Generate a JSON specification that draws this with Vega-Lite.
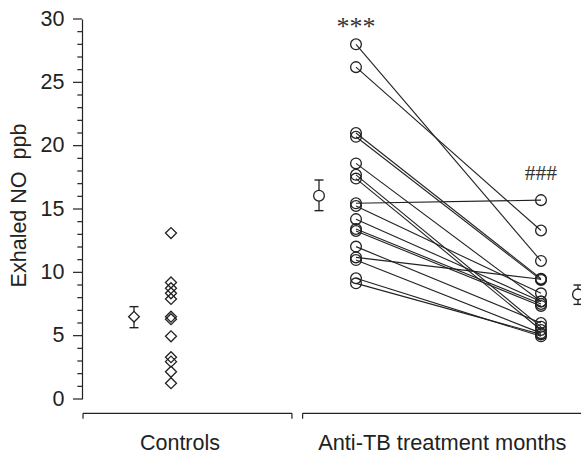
{
  "$schema": "https://vega.github.io/schema/vega-lite/v6.json",
  "width": 508,
  "height": 380,
  "autosize": "none",
  "padding": {"left": 73, "top": 19, "right": 0, "bottom": 56},
  "background": "white",
  "config": {
    "view": {"stroke": null},
    "font": "Liberation Sans",
    "axis": {"labelFont": "Liberation Sans", "titleFont": "Liberation Sans"}
  },
  "datasets": {
    "one": [{}],
    "majorTicks": [{"t": 0}, {"t": 5}, {"t": 10}, {"t": 15}, {"t": 20}, {"t": 25}, {"t": 30}],
    "minorTicks": [{"t": 1}, {"t": 2}, {"t": 3}, {"t": 4}, {"t": 6}, {"t": 7}, {"t": 8}, {"t": 9}, {"t": 11}, {"t": 12}, {"t": 13}, {"t": 14}, {"t": 16}, {"t": 17}, {"t": 18}, {"t": 19}, {"t": 21}, {"t": 22}, {"t": 23}, {"t": 24}, {"t": 26}, {"t": 27}, {"t": 28}, {"t": 29}],
    "controls": [
      {"slot": "Controls", "v": 13.1},
      {"slot": "Controls", "v": 9.2},
      {"slot": "Controls", "v": 8.75},
      {"slot": "Controls", "v": 8.35},
      {"slot": "Controls", "v": 7.9},
      {"slot": "Controls", "v": 6.5},
      {"slot": "Controls", "v": 6.3},
      {"slot": "Controls", "v": 4.95},
      {"slot": "Controls", "v": 3.3},
      {"slot": "Controls", "v": 2.95},
      {"slot": "Controls", "v": 2.15},
      {"slot": "Controls", "v": 1.25}
    ],
    "means": [
      {"slot": "ctrl_mean", "group": "Controls", "mean": 6.5, "lo": 5.63, "hi": 7.29},
      {"slot": "pre_mean", "group": "Treatment", "mean": 16.05, "lo": 14.87, "hi": 17.29},
      {"slot": "post_mean", "group": "Treatment", "mean": 8.26, "lo": 7.47, "hi": 9.0}
    ],
    "subjects": [
      {"id": 1, "slot": "Pre", "v": 28.0}, {"id": 1, "slot": "Post", "v": 10.9},
      {"id": 2, "slot": "Pre", "v": 26.2}, {"id": 2, "slot": "Post", "v": 13.3},
      {"id": 3, "slot": "Pre", "v": 21.0}, {"id": 3, "slot": "Post", "v": 9.5},
      {"id": 4, "slot": "Pre", "v": 20.7}, {"id": 4, "slot": "Post", "v": 9.4},
      {"id": 5, "slot": "Pre", "v": 18.6}, {"id": 5, "slot": "Post", "v": 7.7},
      {"id": 6, "slot": "Pre", "v": 17.7}, {"id": 6, "slot": "Post", "v": 5.7},
      {"id": 7, "slot": "Pre", "v": 17.4}, {"id": 7, "slot": "Post", "v": 5.45},
      {"id": 8, "slot": "Pre", "v": 15.45}, {"id": 8, "slot": "Post", "v": 15.7},
      {"id": 9, "slot": "Pre", "v": 15.24}, {"id": 9, "slot": "Post", "v": 8.34},
      {"id": 10, "slot": "Pre", "v": 14.2}, {"id": 10, "slot": "Post", "v": 7.7},
      {"id": 11, "slot": "Pre", "v": 13.42}, {"id": 11, "slot": "Post", "v": 7.5},
      {"id": 12, "slot": "Pre", "v": 13.26}, {"id": 12, "slot": "Post", "v": 7.35},
      {"id": 13, "slot": "Pre", "v": 12.03}, {"id": 13, "slot": "Post", "v": 6.0},
      {"id": 14, "slot": "Pre", "v": 11.18}, {"id": 14, "slot": "Post", "v": 9.45},
      {"id": 15, "slot": "Pre", "v": 10.97}, {"id": 15, "slot": "Post", "v": 5.2},
      {"id": 16, "slot": "Pre", "v": 9.53}, {"id": 16, "slot": "Post", "v": 4.95},
      {"id": 17, "slot": "Pre", "v": 9.13}, {"id": 17, "slot": "Post", "v": 5.1}
    ]
  },
  "layer": [
    {
      "layer": [
        {
          "data": {"name": "subjects"},
          "mark": {"type": "line", "color": "#222", "strokeWidth": 1.1},
          "encoding": {
            "x": {"field": "slot", "type": "nominal", "axis": null,
                  "scale": {"type": "point", "domain": ["ctrl_mean","Controls","g1","g2","g3","pre_mean","Pre","g4","g5","g6","g7","Post","post_mean"], "padding": 0.865, "align": 0.953}},
            "y": {"field": "v", "type": "quantitative",
                  "scale": {"domain": [0, 30], "nice": false, "zero": false},
                  "axis": {
                    "orient": "left",
                    "offset": -9,
                    "title": "Exhaled NO\u00a0\u00a0ppb",
                    "values": [0, 5, 10, 15, 20, 25, 30],
                    "ticks": false,
                    "grid": false,
                    "domainColor": "#222", "domainWidth": 1.2,
                    "labelFontSize": 21.5, "labelColor": "#222", "labelPadding": 18,
                    "titleFontSize": 21.5, "titleFontWeight": "normal", "titleColor": "#222",
                    "titleX": -63, "titleY": 186, "titleBaseline": "middle", "titleAlign": "center"
                  }},
            "detail": {"field": "id", "type": "nominal"}
          }
        },
        {
          "data": {"name": "subjects"},
          "mark": {"type": "point", "shape": "circle", "filled": false, "stroke": "#222", "strokeWidth": 1.3, "size": 115, "opacity": 1},
          "encoding": {
            "x": {"field": "slot", "type": "nominal", "axis": null,
                  "scale": {"type": "point", "domain": ["ctrl_mean","Controls","g1","g2","g3","pre_mean","Pre","g4","g5","g6","g7","Post","post_mean"], "padding": 0.865, "align": 0.953}},
            "y": {"field": "v", "type": "quantitative", "scale": {"domain": [0, 30], "nice": false, "zero": false}}
          }
        },
        {
          "data": {"name": "controls"},
          "mark": {"type": "point", "shape": "diamond", "filled": false, "stroke": "#222", "strokeWidth": 1.3, "size": 121, "opacity": 1},
          "encoding": {
            "x": {"field": "slot", "type": "nominal", "axis": null,
                  "scale": {"type": "point", "domain": ["ctrl_mean","Controls","g1","g2","g3","pre_mean","Pre","g4","g5","g6","g7","Post","post_mean"], "padding": 0.865, "align": 0.953}},
            "y": {"field": "v", "type": "quantitative", "scale": {"domain": [0, 30], "nice": false, "zero": false}}
          }
        },
        {
          "data": {"name": "means"},
          "mark": {"type": "rule", "color": "#222", "strokeWidth": 1.3},
          "encoding": {
            "x": {"field": "slot", "type": "nominal", "axis": null,
                  "scale": {"type": "point", "domain": ["ctrl_mean","Controls","g1","g2","g3","pre_mean","Pre","g4","g5","g6","g7","Post","post_mean"], "padding": 0.865, "align": 0.953}},
            "y": {"field": "lo", "type": "quantitative", "scale": {"domain": [0, 30], "nice": false, "zero": false}},
            "y2": {"field": "hi"}
          }
        },
        {
          "data": {"name": "means"},
          "mark": {"type": "tick", "orient": "horizontal", "color": "#222", "size": 9, "thickness": 1.4, "opacity": 1},
          "encoding": {
            "x": {"field": "slot", "type": "nominal", "axis": null,
                  "scale": {"type": "point", "domain": ["ctrl_mean","Controls","g1","g2","g3","pre_mean","Pre","g4","g5","g6","g7","Post","post_mean"], "padding": 0.865, "align": 0.953}},
            "y": {"field": "lo", "type": "quantitative", "scale": {"domain": [0, 30], "nice": false, "zero": false}}
          }
        },
        {
          "data": {"name": "means"},
          "mark": {"type": "tick", "orient": "horizontal", "color": "#222", "size": 9, "thickness": 1.4, "opacity": 1},
          "encoding": {
            "x": {"field": "slot", "type": "nominal", "axis": null,
                  "scale": {"type": "point", "domain": ["ctrl_mean","Controls","g1","g2","g3","pre_mean","Pre","g4","g5","g6","g7","Post","post_mean"], "padding": 0.865, "align": 0.953}},
            "y": {"field": "hi", "type": "quantitative", "scale": {"domain": [0, 30], "nice": false, "zero": false}}
          }
        },
        {
          "data": {"name": "means"},
          "mark": {"type": "point", "filled": true, "fill": "white", "stroke": "#222", "strokeWidth": 1.3, "size": 115, "opacity": 1},
          "encoding": {
            "x": {"field": "slot", "type": "nominal", "axis": null,
                  "scale": {"type": "point", "domain": ["ctrl_mean","Controls","g1","g2","g3","pre_mean","Pre","g4","g5","g6","g7","Post","post_mean"], "padding": 0.865, "align": 0.953}},
            "y": {"field": "mean", "type": "quantitative", "scale": {"domain": [0, 30], "nice": false, "zero": false}},
            "shape": {"field": "group", "type": "nominal", "scale": {"domain": ["Controls", "Treatment"], "range": ["diamond", "circle"]}, "legend": null}
          }
        },
        {
          "data": {"name": "one"},
          "mark": {"type": "text", "text": "***", "font": "Liberation Serif", "fontSize": 26, "color": "#333", "align": "center", "baseline": "alphabetic"},
          "encoding": {
            "x": {"datum": "Pre", "type": "nominal", "axis": null,
                  "scale": {"type": "point", "domain": ["ctrl_mean","Controls","g1","g2","g3","pre_mean","Pre","g4","g5","g6","g7","Post","post_mean"], "padding": 0.865, "align": 0.953}},
            "y": {"datum": 28.74, "type": "quantitative", "scale": {"domain": [0, 30], "nice": false, "zero": false}}
          }
        },
        {
          "data": {"name": "one"},
          "mark": {"type": "text", "text": "###", "font": "Liberation Serif", "fontSize": 21.5, "color": "#333", "align": "center", "baseline": "alphabetic"},
          "encoding": {
            "x": {"datum": "Post", "type": "nominal", "axis": null,
                  "scale": {"type": "point", "domain": ["ctrl_mean","Controls","g1","g2","g3","pre_mean","Pre","g4","g5","g6","g7","Post","post_mean"], "padding": 0.865, "align": 0.953}},
            "y": {"datum": 17.29, "type": "quantitative", "scale": {"domain": [0, 30], "nice": false, "zero": false}}
          }
        }
      ]
    },
    {
      "layer": [
        {
          "data": {"name": "majorTicks"},
          "mark": {"type": "rule", "color": "#222", "strokeWidth": 1.2},
          "encoding": {
            "x": {"datum": 0, "type": "quantitative", "axis": null, "scale": {"domain": [0, 100], "nice": false, "zero": false}},
            "x2": {"datum": 1.77},
            "y": {"field": "t", "type": "quantitative", "axis": null, "scale": {"domain": [0, 30], "nice": false, "zero": false}}
          }
        },
        {
          "data": {"name": "minorTicks"},
          "mark": {"type": "rule", "color": "#222", "strokeWidth": 1.2},
          "encoding": {
            "x": {"datum": 0.85, "type": "quantitative", "axis": null, "scale": {"domain": [0, 100], "nice": false, "zero": false}},
            "x2": {"datum": 1.77},
            "y": {"field": "t", "type": "quantitative", "axis": null, "scale": {"domain": [0, 30], "nice": false, "zero": false}}
          }
        },
        {
          "data": {"name": "one"},
          "mark": {"type": "rule", "color": "#222", "strokeWidth": 1.2},
          "encoding": {
            "x": {"datum": 1.97, "type": "quantitative", "axis": null, "scale": {"domain": [0, 100], "nice": false, "zero": false}},
            "x2": {"datum": 43.1},
            "y": {"datum": -1.13, "type": "quantitative", "axis": null, "scale": {"domain": [0, 30], "nice": false, "zero": false}}
          }
        },
        {
          "data": {"name": "one"},
          "mark": {"type": "rule", "color": "#222", "strokeWidth": 1.2},
          "encoding": {
            "x": {"datum": 45.2, "type": "quantitative", "axis": null, "scale": {"domain": [0, 100], "nice": false, "zero": false}},
            "x2": {"datum": 110},
            "y": {"datum": -1.13, "type": "quantitative", "axis": null, "scale": {"domain": [0, 30], "nice": false, "zero": false}}
          }
        },
        {
          "data": {"name": "one"},
          "mark": {"type": "rule", "color": "#222", "strokeWidth": 1.2},
          "encoding": {
            "x": {"datum": 1.97, "type": "quantitative", "axis": null, "scale": {"domain": [0, 100], "nice": false, "zero": false}},
            "y": {"datum": -1.13, "type": "quantitative", "axis": null, "scale": {"domain": [0, 30], "nice": false, "zero": false}},
            "y2": {"datum": -1.55}
          }
        },
        {
          "data": {"name": "one"},
          "mark": {"type": "rule", "color": "#222", "strokeWidth": 1.2},
          "encoding": {
            "x": {"datum": 43.1, "type": "quantitative", "axis": null, "scale": {"domain": [0, 100], "nice": false, "zero": false}},
            "y": {"datum": -1.13, "type": "quantitative", "axis": null, "scale": {"domain": [0, 30], "nice": false, "zero": false}},
            "y2": {"datum": -1.55}
          }
        },
        {
          "data": {"name": "one"},
          "mark": {"type": "rule", "color": "#222", "strokeWidth": 1.2},
          "encoding": {
            "x": {"datum": 45.2, "type": "quantitative", "axis": null, "scale": {"domain": [0, 100], "nice": false, "zero": false}},
            "y": {"datum": -1.13, "type": "quantitative", "axis": null, "scale": {"domain": [0, 30], "nice": false, "zero": false}},
            "y2": {"datum": -1.55}
          }
        },
        {
          "data": {"name": "one"},
          "mark": {"type": "text", "text": "Controls", "fontSize": 21.5, "color": "#222", "align": "center", "baseline": "alphabetic"},
          "encoding": {
            "x": {"datum": 21.06, "type": "quantitative", "axis": null, "scale": {"domain": [0, 100], "nice": false, "zero": false}},
            "y": {"datum": -4.03, "type": "quantitative", "axis": null, "scale": {"domain": [0, 30], "nice": false, "zero": false}}
          }
        },
        {
          "data": {"name": "one"},
          "mark": {"type": "text", "text": "Anti-TB treatment months", "fontSize": 21.8, "color": "#222", "align": "center", "baseline": "alphabetic"},
          "encoding": {
            "x": {"datum": 72.7, "type": "quantitative", "axis": null, "scale": {"domain": [0, 100], "nice": false, "zero": false}},
            "y": {"datum": -4.03, "type": "quantitative", "axis": null, "scale": {"domain": [0, 30], "nice": false, "zero": false}}
          }
        }
      ]
    }
  ],
  "resolve": {"scale": {"x": "independent", "y": "independent"}}
}
